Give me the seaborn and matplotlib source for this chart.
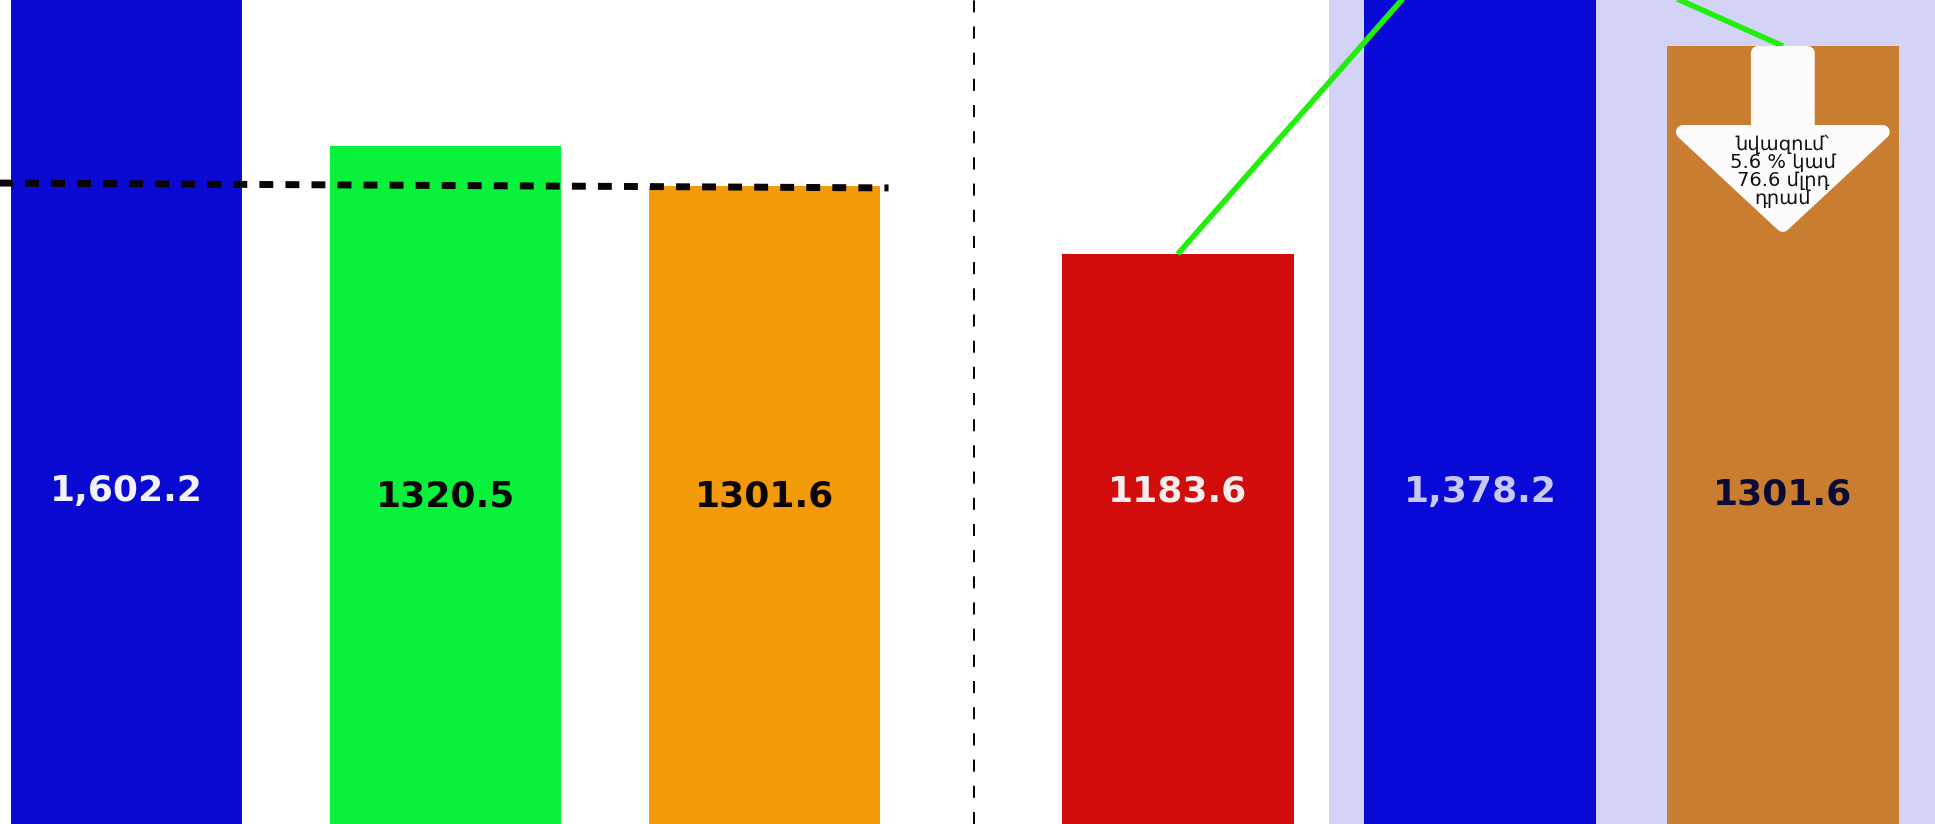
import matplotlib
matplotlib.use("Agg")
import matplotlib.pyplot as plt
import matplotlib.transforms as mtransforms
from matplotlib.patches import Polygon
import seaborn as sns
import pandas as pd

# ---------------- data ----------------
left_categories = ["b1", "b2", "b3"]
left_values = [1602.2, 1320.5, 1301.6]
left_labels = ["1,602.2", "1320.5", "1301.6"]
left_colors = ["#0A0AD2", "#08F23C", "#F39A0B"]
left_label_colors = ["#F2F2FA", "#0A0505", "#0A0505"]

right_categories = ["r1", "r2", "r3"]
right_values = [1183.6, 1378.2, 1301.6]
right_labels = ["1183.6", "1,378.2", "1301.6"]
right_colors = ["#D20B0B", "#0A0AD8", "#C97D30"]
right_label_colors = ["#F6EEEE", "#C8C8F2", "#0B0B35"]

ref_line_x = [-0.40, 2.39]
ref_line_y = [1303.0, 1300.7]

arrow_text = "նվազում՝\n5.6 % կամ\n76.6 մլրդ\nդրամ"

# ---------------- style ----------------
sns.set_theme(style="white")
plt.rcParams["font.family"] = ["DejaVu Sans"]

W, H = 1935, 824
fig = plt.figure(figsize=(W / 100, H / 100), dpi=100)
fig.patch.set_facecolor("white")

split = 975
axL = fig.add_axes([0, 0, split / W, 1])
axR = fig.add_axes([split / W, 0, (W - split) / W, 1])
for ax in (axL, axR):
    ax.set_facecolor("none")

# ---------------- left panel ----------------
dfL = pd.DataFrame({"cat": left_categories, "val": left_values})
sns.barplot(data=dfL, x="cat", y="val", hue="cat", palette=left_colors,
            saturation=1, width=0.724, legend=False, errorbar=None,
            edgecolor="none", linewidth=0, ax=axL, zorder=2)
axL.set_xlim(-0.395, 2.661)
axL.set_ylim(1000.1, 1389.5)
axL.axis("off")

# dotted reference line
axL.plot(ref_line_x, ref_line_y, color="#0A0505", lw=5,
         linestyle=(0, (2.0, 1.75)), dash_capstyle="butt", zorder=4)
# vertical dashed separator
axL.axvline(2.658, color="#0A0505", lw=1.45, linestyle=(0, (6, 7)), zorder=4)

tL = mtransforms.blended_transform_factory(axL.transData, axL.transAxes)
label_y_left = [0.392, 0.385, 0.385]
for i, (lab, col) in enumerate(zip(left_labels, left_label_colors)):
    axL.text(i, label_y_left[i], lab, transform=tL, ha="center", va="baseline",
             fontsize=26, fontweight="bold", color=col, zorder=6)

# ---------------- right panel ----------------
xr = (-0.670, 2.503)
axR.axvspan(0.5, xr[1], color="#D3D3F7", zorder=0, lw=0)
dfR = pd.DataFrame({"cat": right_categories, "val": right_values})
sns.barplot(data=dfR, x="cat", y="val", hue="cat", palette=right_colors,
            saturation=1, width=0.767, legend=False, errorbar=None,
            edgecolor="none", linewidth=0, ax=axR, zorder=2)
axR.set_xlim(*xr)
axR.set_ylim(860.2, 1327.7)
axR.axis("off")

# green connecting line
axR.plot(range(len(right_values)), right_values, color="#22EE0C", lw=4,
         solid_capstyle="butt", zorder=3)

tR = mtransforms.blended_transform_factory(axR.transData, axR.transAxes)
label_y_right = [0.391, 0.391, 0.388]
for i, (lab, col) in enumerate(zip(right_labels, right_label_colors)):
    axR.text(i, label_y_right[i], lab, transform=tR, ha="center", va="baseline",
             fontsize=26, fontweight="bold", color=col, zorder=6)

# down arrow annotation on last bar
px_per_unit = (W - split) / (xr[1] - xr[0])
cx = len(right_values) - 1
verts_px = [(-25, 53), (25, 53), (25, 132), (100, 132), (0, 225),
            (-100, 132), (-25, 132)]
verts = [(cx + dx / px_per_unit, 1 - dy / H) for dx, dy in verts_px]
arrow = Polygon(verts, closed=True, facecolor="#FDFBFB", edgecolor="#FDFBFB",
                lw=10, joinstyle="round", transform=tR, zorder=5)
axR.add_patch(arrow)
axR.text(cx, 0.792, arrow_text, transform=tR, ha="center", va="center",
         multialignment="center", fontsize=14, linespacing=0.92,
         color="#111111", zorder=6)

fig.savefig("out.png", dpi=100, facecolor="white")
